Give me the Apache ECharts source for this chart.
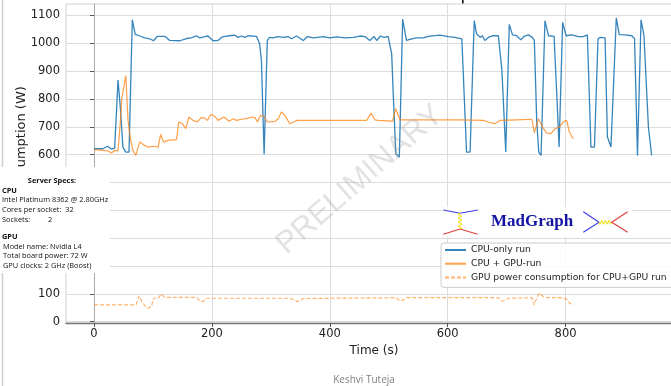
<!DOCTYPE html>
<html>
<head>
<meta charset="utf-8">
<script src="https://cdn.jsdelivr.net/npm/echarts@6/dist/echarts.min.js"></script>
<style>
  html, body { margin: 0; padding: 0; background: #fff; }
  #chart { width: 671px; height: 386px; }
</style>
</head>
<body>
<div id="chart"></div>
<script>
// CPU-only run
const cpuTime = [0, 15, 23, 29.5, 35, 40.8, 45, 49, 54, 59.4, 65, 70, 77.6, 86, 94.6, 101, 107.6, 120, 128.5, 145.5,
  157, 165, 174, 179.5, 188, 193.5, 202, 210.5, 216, 222, 230, 239, 244.5, 250, 256, 261.5, 275.7, 281, 284, 288.6,
  294, 298, 304, 312, 321, 329, 335, 343.6, 355, 362, 372, 389, 400, 411.5, 425.6, 440, 451, 459.6, 468, 475,
  479.5, 486, 492, 499, 505, 507.6, 512, 518, 523.6, 530, 539, 547, 558.6, 567, 587, 601, 612, 624, 632, 638,
  645, 649, 655, 659, 663, 669, 677, 686, 692, 698.5, 704.5, 710, 717, 724, 729.5, 737, 743.6, 747, 751, 754.5,
  758.4, 765, 771, 780.5, 785, 789, 795, 801, 810.5, 822, 830, 837, 843, 849, 855, 859, 867, 871, 877, 886,
  891, 901, 912.5, 917, 922, 928, 933, 940.5, 946]
const cpuPower = [621, 621, 630, 620, 623, 868, 760, 627, 609, 609, 1084, 1032, 1026, 1019, 1016, 1009, 1025, 1025, 1010, 1009,
  1017, 1019, 1027, 1019, 1024, 1026, 1009, 1010, 1021, 1025, 1027, 1029, 1021, 1026, 1021, 1027, 1025, 998, 938, 601,
  1010, 1021, 1019, 1024, 1021, 1024, 1016, 1026, 1010, 1024, 1019, 1024, 1019, 1023, 1019, 1021, 1026, 1024, 1010, 1024,
  1010, 1026, 1021, 1025, 962, 819, 603, 591, 1087, 1010, 1016, 1019, 1019, 1025, 1029, 1024, 1021, 1016, 609, 609,
  1081, 1034, 1021, 1027, 1010, 1021, 1027, 1027, 902, 609, 1068, 1030, 1027, 1012, 1025, 1030, 1021, 1010, 723, 609,
  597, 1081, 1027, 1025, 819, 627, 1075, 1027, 1030, 1024, 1024, 1030, 627, 627, 1016, 1021, 1019, 663, 627, 1091,
  1031, 1030, 1027, 1016, 597, 1084, 1027, 699, 597]

// CPU + GPU run (total)
const mixTime = [0, 15, 24, 29.5, 35, 40.7, 43.6, 47.5, 54, 57.7, 61.8, 66, 70.8, 77.6, 86, 91.7, 100, 108.7, 113, 118,
  125.6, 140, 143.8, 150, 155.7, 161, 168, 175, 182, 188, 192.5, 198, 205, 210.5, 220.7, 229, 236, 241.8, 250, 258.7,
  267, 273, 277.4, 282.5, 288.7, 294, 307, 312.5, 318, 324, 332, 338, 344.7, 462.5, 470, 476.6, 482, 506.6, 511.7, 519,
  564, 621, 660.5, 669, 680, 689, 717, 742.6, 747, 754, 761, 768, 775, 782, 789.5, 796, 802, 806.5, 813]
const mixPower = [618, 615, 613, 606, 615, 613, 687, 806, 884, 723, 657, 615, 597, 645, 633, 627, 630, 627, 673, 645,
  651, 654, 717, 711, 693, 735, 723, 717, 733, 731, 723, 745, 737, 723, 735, 720, 729, 723, 727, 729,
  735, 733, 717, 741, 737, 717, 719, 729, 753, 741, 711, 716, 723, 723, 749, 725, 723, 720, 765, 725,
  725, 725, 723, 717, 711, 723, 725, 727, 679, 729, 699, 677, 675, 693, 699, 717, 723, 681, 657]

// GPU power during the CPU + GPU run
const gpuTime = [0, 71, 76.4, 83, 90.6, 97.5, 101, 108.7, 114, 120, 174, 179.5, 185, 191, 332, 341, 346, 355, 513, 519,
  524.6, 530, 686, 691.7, 697, 703, 742.6, 746.5, 751, 755.5, 762, 768, 796, 802, 807, 811]
const gpuPower = [60, 60, 92, 66, 48, 54, 84, 84, 99, 87, 87, 75, 72, 84, 84, 75, 72, 83, 86, 74,
  78, 86, 86, 74, 75, 84, 86, 60, 84, 102, 90, 86, 86, 80, 66, 60]

const xTicks = [0, 200, 400, 600, 800]
const yTicks = [0, 100, 200, 300, 400, 500, 600, 700, 800, 900, 1000, 1100]

const pairs = (xs, ys) => xs.map((x, i) => [x, ys[i]])

const tickFont = { color: '#222', fontFamily: 'DejaVu Sans', fontSize: 11.5, formatter: v => String(v) }
const specFont = 'Open Sans'

// wavy propagator for the logo
function wave(x0, y0, x1, y1, n) {
  const pts = []
  const dx = x1 - x0, dy = y1 - y0
  const len = Math.hypot(dx, dy)
  const nx = -dy / len, ny = dx / len
  for (let i = 0; i <= 40; i++) {
    const t = i / 40
    const a = Math.sin(t * n * Math.PI * 2) * 1.6
    pts.push([x0 + dx * t + nx * a, y0 + dy * t + ny * a])
  }
  return pts
}

const line = (pts, color) => ({
  type: 'polyline', z: 12, shape: { points: pts },
  style: { stroke: color, lineWidth: 1.1, fill: null }
})

const specText = (x, y, text, bold) => ({
  type: 'text', z: 12, x, y,
  style: {
    text, fill: '#111', fontFamily: specFont, fontSize: 7.4,
    fontWeight: bold ? 'bold' : 'normal', verticalAlign: 'middle'
  }
})

const chart = echarts.init(document.getElementById('chart'), null, { renderer: 'canvas' })

chart.setOption({
  animation: false,
  backgroundColor: '#fff',
  grid: {
    left: 66, top: 4, width: 616, height: 319,
    show: true, borderColor: '#d0d0d0', borderWidth: 1,
    containLabel: false, outerBoundsMode: 'none'
  },
  legend: {
    orient: 'vertical', left: 441, top: 243,
    itemWidth: 21, itemHeight: 10, itemGap: 3.7,
    padding: [2, 8, 5, 3],
    backgroundColor: 'rgba(255,255,255,0.85)',
    borderColor: '#cccccc', borderWidth: 1, borderRadius: 3,
    itemStyle: { opacity: 0 },
    textStyle: { fontFamily: 'DejaVu Sans', fontSize: 9.2, color: '#222', lineHeight: 10 },
    data: ['CPU-only run', 'CPU + GPU-run', 'GPU power consumption for CPU+GPU run']
  },
  xAxis: {
    type: 'value', min: -47.5, max: 997.5,
    name: 'Time (s)', nameLocation: 'middle', nameGap: 17,
    nameTextStyle: { color: '#222', fontFamily: 'DejaVu Sans', fontSize: 12 },
    axisLine: { onZero: false, lineStyle: { color: '#777', width: 1.3 } },
    axisTick: { show: true, length: 4, lineStyle: { color: '#555' }, customValues: xTicks },
    axisLabel: { ...tickFont, margin: 5, customValues: xTicks },
    splitLine: { show: true, lineStyle: { color: '#dcdcdc', width: 1 } }
  },
  yAxis: {
    type: 'value', min: -5, max: 1141,
    name: 'Power consumption (W)', nameLocation: 'middle', nameGap: 38, nameMoveOverlap: false,
    nameTextStyle: { color: '#222', fontFamily: 'DejaVu Sans', fontSize: 13 },
    axisLine: { show: true, lineStyle: { color: '#aaa', width: 1 } },
    axisTick: { show: true, length: 4, lineStyle: { color: '#555' }, customValues: yTicks },
    axisLabel: { ...tickFont, margin: 6, customValues: yTicks },
    splitLine: { show: true, lineStyle: { color: '#dcdcdc', width: 1 } }
  },
  series: [
    {
      name: 'CPU-only run', type: 'line', data: pairs(cpuTime, cpuPower),
      symbol: 'none', lineStyle: { color: '#1f77b4', width: 1.3, opacity: 0.9 },
      itemStyle: { color: '#1f77b4' }
    },
    {
      name: 'CPU + GPU-run', type: 'line', data: pairs(mixTime, mixPower),
      symbol: 'none', lineStyle: { color: '#ff7f0e', width: 1.2, opacity: 0.75 },
      itemStyle: { color: '#ff7f0e' }
    },
    {
      name: 'GPU power consumption for CPU+GPU run', type: 'line', data: pairs(gpuTime, gpuPower),
      symbol: 'none', lineStyle: { color: '#ff7f0e', width: 1.2, type: [4, 2], opacity: 0.6 },
      itemStyle: { color: '#ffb070' }
    }
  ],
  graphic: [
    // slide edge
    { type: 'line', z: 5, shape: { x1: 2.5, y1: 0, x2: 2.5, y2: 386 }, style: { stroke: '#cfcfcf', lineWidth: 1.5 } },
    // cropped title stroke
    { type: 'rect', z: 5, shape: { x: 462, y: 0, width: 1.6, height: 3.5 }, style: { fill: '#111' } },
    // server specs panel
    { type: 'rect', z: 10, shape: { x: 0, y: 167, width: 110, height: 106 }, style: { fill: '#fff' } },
    { type: 'text', z: 12, x: 52, y: 181, style: { text: 'Server Specs:', fill: '#111', fontFamily: specFont, fontSize: 7.4, fontWeight: 'bold', align: 'center', verticalAlign: 'middle' } },
    specText(2, 190.7, 'CPU', true),
    specText(2, 200.3, 'Intel Platinum 8362 @ 2.80GHz'),
    specText(2, 210.3, 'Cores per socket:  32'),
    specText(2, 220, 'Sockets:'),
    specText(48, 220, '2'),
    specText(2, 236.7, 'GPU', true),
    specText(3, 246.7, 'Model name: Nvidia L4'),
    specText(3, 256.3, 'Total board power: 72 W'),
    specText(3, 266, 'GPU clocks: 2 GHz (Boost)'),
    // MadGraph logo
    { type: 'rect', z: 10, shape: { x: 443, y: 207, width: 189, height: 30 }, style: { fill: '#fff' } },
    line([[443.3, 210], [460, 213.3], [477.7, 210]], '#3a3ae0'),
    line([[443.3, 234.3], [460, 229], [477.7, 234.3]], '#e03a3a'),
    line(wave(460, 213.3, 460, 229, 4), '#f0e020'),
    line([[583.3, 211.7], [599, 222.3], [583.3, 232.3]], '#3a3ae0'),
    line(wave(599, 222.3, 611.7, 222.3, 3.5), '#f0e020'),
    line([[627.7, 211.7], [611.7, 222.3], [627.7, 232.3]], '#e03a3a'),
    { type: 'text', z: 12, x: 532, y: 222, style: { text: 'MadGraph', fill: '#1414a4', fontFamily: 'Liberation Serif', fontSize: 17, fontWeight: 'bold', align: 'center', verticalAlign: 'middle' } },
    // watermark
    { type: 'text', z: 50, x: 360, y: 180, rotation: 41 * Math.PI / 180, style: { text: 'PRELIMINARY', fill: 'rgba(160,160,160,0.3)', fontFamily: 'Liberation Sans', fontSize: 31, align: 'center', verticalAlign: 'middle' } },
    // author
    { type: 'text', z: 12, x: 364, y: 380, style: { text: 'Keshvi Tuteja', fill: '#7f7f7f', fontFamily: specFont, fontSize: 10, align: 'center', verticalAlign: 'middle' } }
  ]
})
</script>
</body>
</html>
